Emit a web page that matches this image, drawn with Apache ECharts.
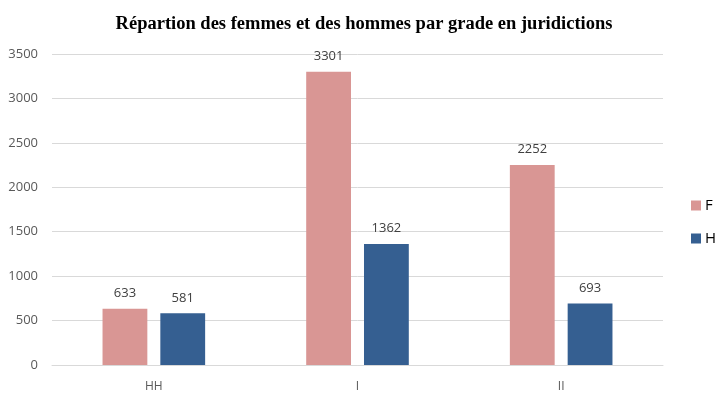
<!DOCTYPE html>
<html><head><meta charset="utf-8">
<script src="https://cdn.jsdelivr.net/npm/echarts@6/dist/echarts.min.js"></script>
<style>html,body{margin:0;padding:0;background:#fff}#c{width:728px;height:397px}</style>
</head><body><div id="c"></div>
<script>
const categories = ['HH', 'I', 'II'];
const seriesF = [633, 3301, 2252];
const seriesH = [581, 1362, 693];
const yTicks = { min: 0, max: 3500, interval: 500 };

const chart = echarts.init(document.getElementById('c'), null, { renderer: 'canvas' });
const lbl = { show: true, position: 'top', distance: 9, color: '#404040', fontSize: 13, fontFamily: 'Open Sans' };
chart.setOption({
  animation: false,
  backgroundColor: '#fff',
  title: {
    text: 'Répartion des femmes et des hommes par grade en juridictions',
    left: 'center', top: 10,
    textStyle: { fontFamily: 'Liberation Serif', fontWeight: 'bold', fontSize: 18.5, color: '#000' }
  },
  legend: {
    orient: 'vertical', left: 691, top: 198, itemWidth: 10, itemHeight: 10, itemGap: 18,
    icon: 'rect', padding: 0,
    textStyle: { fontFamily: 'Open Sans', fontSize: 15, color: '#000', padding: [0, 0, 0, -1] },
    data: ['F', 'H']
  },
  grid: { left: 52, right: 65, top: 54, bottom: 32, containLabel: false },
  xAxis: {
    type: 'category', data: categories,
    axisLine: { lineStyle: { color: '#d9d9d9' } },
    axisTick: { show: false },
    axisLabel: { color: '#595959', fontFamily: 'Open Sans', fontSize: 12, margin: 16 }
  },
  yAxis: {
    type: 'value', min: yTicks.min, max: yTicks.max, interval: yTicks.interval,
    axisLine: { show: false }, axisTick: { show: false },
    splitLine: { lineStyle: { color: '#d9d9d9' } },
    axisLabel: { color: '#595959', fontFamily: 'Open Sans', fontSize: 13, margin: 14, formatter: v => String(v) }
  },
  series: [
    { name: 'F', type: 'bar', data: seriesF, barWidth: '22%', barGap: '29%', itemStyle: { color: '#D99694' }, label: lbl },
    { name: 'H', type: 'bar', data: seriesH, barWidth: '22%', itemStyle: { color: '#355F91' }, label: lbl }
  ]
});
</script></body></html>
